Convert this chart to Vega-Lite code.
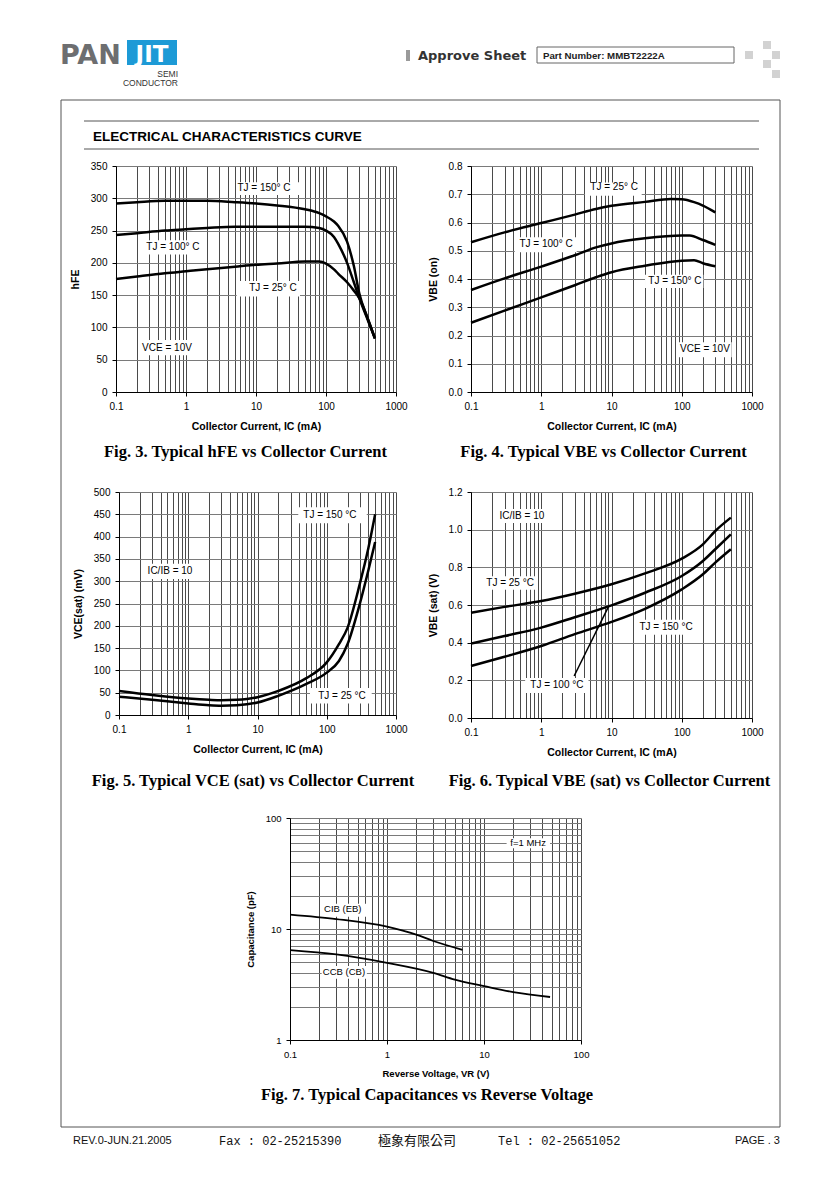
{
  "$schema": "https://vega.github.io/schema/vega-lite/v6.json",
  "padding": 0,
  "background": "white",
  "columns": 3,
  "bounds": "flush",
  "align": {"row": "all", "column": "none"},
  "spacing": {"row": 100, "column": 75},
  "config": {
    "font": "Liberation Sans",
    "view": {"stroke": null},
    "axis": {"grid": true, "gridOpacity": 1, "gridWidth": 1, "domainColor": "#000", "domainWidth": 1, "tickColor": "#000", "tickSize": 4, "labelColor": "#000", "labelFont": "Liberation Sans", "labelFontSize": 10, "titleFont": "Liberation Sans", "titleFontSize": 10.5, "titleFontWeight": "bold", "titleColor": "#000", "labelPadding": 5, "titlePadding": 10, "labelFlush": false, "labelOverlap": false},
    "axisX": {"gridColor": "#4a4a4a"},
    "axisY": {"gridColor": "#7a7a7a"},
    "title": {"font": "Liberation Serif", "fontSize": 16.5, "fontWeight": "bold", "color": "#000"}
  },
  "datasets": {
    "page_bg": [{"x": 0, "x2": 840, "y": 0, "y2": 1189}],
    "hdr_frame": [{"x": 61, "x2": 780, "y": 100, "y2": 1127}],
    "hdr_rules": [{"x": 84, "x2": 759, "y": 121}, {"x": 84, "x2": 759, "y": 149}],
    "hdr_partbox": [{"x": 537, "x2": 734, "y": 47, "y2": 63}],
    "hdr_blue": [{"x": 127, "x2": 177, "y": 40, "y2": 65}],
    "hdr_bar": [{"x": 406, "x2": 410, "y": 50, "y2": 61}],
    "hdr_checker": [
      {"x": 763, "x2": 771, "y": 41, "y2": 49},
      {"x": 745, "x2": 753, "y": 51, "y2": 59},
      {"x": 772, "x2": 780, "y": 51, "y2": 59},
      {"x": 763, "x2": 771, "y": 60, "y2": 68},
      {"x": 772, "x2": 780, "y": 70, "y2": 78}
    ],
    "hdr_pan": [{"x": 60, "y": 64, "t": "PAN"}],
    "hdr_jit": [{"x": 152, "y": 62, "t": "JIT"}],
    "hdr_semi": [{"x": 178, "y": 77, "t": "SEMI"}, {"x": 178, "y": 86, "t": "CONDUCTOR"}],
    "hdr_approve": [{"x": 418, "y": 60, "t": "Approve Sheet"}],
    "hdr_part": [{"x": 543, "y": 59, "t": "Part Number: MMBT2222A"}],
    "hdr_heading": [{"x": 93, "y": 141, "t": "ELECTRICAL CHARACTERISTICS CURVE"}],
    "ftr_rev": [{"x": 73, "y": 1144, "t": "REV.0-JUN.21.2005"}],
    "ftr_page": [{"x": 780, "y": 1144, "t": "PAGE . 3"}],
    "ftr_mono": [{"x": 219, "y": 1145, "t": "Fax : 02-25215390"}, {"x": 498, "y": 1145, "t": "Tel : 02-25651052"}],
    "ftr_cjk": [{"x": 378, "y": 1145, "t": "極象有限公司"}],
    "f3": [
      {"tj": "150", "x": 0.1, "y": 292}, {"tj": "150", "x": 0.2, "y": 294}, {"tj": "150", "x": 0.5, "y": 296}, {"tj": "150", "x": 1, "y": 296}, {"tj": "150", "x": 2, "y": 296}, {"tj": "150", "x": 5, "y": 294}, {"tj": "150", "x": 10, "y": 292}, {"tj": "150", "x": 20, "y": 289}, {"tj": "150", "x": 50, "y": 283}, {"tj": "150", "x": 80, "y": 277}, {"tj": "150", "x": 100, "y": 272}, {"tj": "150", "x": 130, "y": 264}, {"tj": "150", "x": 150, "y": 257}, {"tj": "150", "x": 200, "y": 233}, {"tj": "150", "x": 250, "y": 195}, {"tj": "150", "x": 300, "y": 152}, {"tj": "150", "x": 400, "y": 112}, {"tj": "150", "x": 500, "y": 83},
      {"tj": "100", "x": 0.1, "y": 243}, {"tj": "100", "x": 0.2, "y": 246}, {"tj": "100", "x": 0.5, "y": 250}, {"tj": "100", "x": 1, "y": 252}, {"tj": "100", "x": 2, "y": 254}, {"tj": "100", "x": 5, "y": 256}, {"tj": "100", "x": 10, "y": 256}, {"tj": "100", "x": 20, "y": 256}, {"tj": "100", "x": 50, "y": 256}, {"tj": "100", "x": 80, "y": 254}, {"tj": "100", "x": 100, "y": 250}, {"tj": "100", "x": 130, "y": 240}, {"tj": "100", "x": 150, "y": 229}, {"tj": "100", "x": 200, "y": 200}, {"tj": "100", "x": 250, "y": 170}, {"tj": "100", "x": 300, "y": 145}, {"tj": "100", "x": 400, "y": 110}, {"tj": "100", "x": 500, "y": 83},
      {"tj": "25", "x": 0.1, "y": 175}, {"tj": "25", "x": 0.2, "y": 179}, {"tj": "25", "x": 0.5, "y": 184}, {"tj": "25", "x": 1, "y": 187}, {"tj": "25", "x": 2, "y": 190}, {"tj": "25", "x": 5, "y": 194}, {"tj": "25", "x": 10, "y": 197}, {"tj": "25", "x": 20, "y": 199}, {"tj": "25", "x": 50, "y": 202}, {"tj": "25", "x": 80, "y": 202}, {"tj": "25", "x": 100, "y": 199}, {"tj": "25", "x": 130, "y": 190}, {"tj": "25", "x": 150, "y": 183}, {"tj": "25", "x": 200, "y": 170}, {"tj": "25", "x": 250, "y": 157}, {"tj": "25", "x": 300, "y": 145}, {"tj": "25", "x": 400, "y": 112}, {"tj": "25", "x": 500, "y": 83}
    ],
    "f3box": [{"x": 5.3, "x2": 42.5, "y": 305, "y2": 325}, {"x": 0.26, "x2": 1.67, "y": 213, "y2": 235}, {"x": 5.3, "x2": 42.5, "y": 148, "y2": 172}, {"x": 0.26, "x2": 1.14, "y": 57, "y2": 80.5}],
    "f3lab": [{"x": 13, "y": 316, "t": "TJ = 150° C"}, {"x": 0.65, "y": 225, "t": "TJ = 100° C"}, {"x": 17.5, "y": 161, "t": "TJ = 25° C"}, {"x": 0.535, "y": 68, "t": "VCE = 10V"}],
    "f4": [
      {"tj": "25", "x": 0.1, "y": 0.530}, {"tj": "25", "x": 0.3, "y": 0.565}, {"tj": "25", "x": 1, "y": 0.598}, {"tj": "25", "x": 3, "y": 0.628}, {"tj": "25", "x": 6, "y": 0.648}, {"tj": "25", "x": 10, "y": 0.659}, {"tj": "25", "x": 30, "y": 0.673}, {"tj": "25", "x": 70, "y": 0.683}, {"tj": "25", "x": 100, "y": 0.682}, {"tj": "25", "x": 150, "y": 0.672}, {"tj": "25", "x": 200, "y": 0.660}, {"tj": "25", "x": 300, "y": 0.636},
      {"tj": "100", "x": 0.1, "y": 0.361}, {"tj": "100", "x": 0.3, "y": 0.402}, {"tj": "100", "x": 1, "y": 0.444}, {"tj": "100", "x": 3, "y": 0.484}, {"tj": "100", "x": 6, "y": 0.512}, {"tj": "100", "x": 10, "y": 0.526}, {"tj": "100", "x": 30, "y": 0.544}, {"tj": "100", "x": 100, "y": 0.554}, {"tj": "100", "x": 130, "y": 0.554}, {"tj": "100", "x": 200, "y": 0.538}, {"tj": "100", "x": 300, "y": 0.521},
      {"tj": "150", "x": 0.1, "y": 0.245}, {"tj": "150", "x": 0.3, "y": 0.288}, {"tj": "150", "x": 1, "y": 0.335}, {"tj": "150", "x": 3, "y": 0.378}, {"tj": "150", "x": 6, "y": 0.406}, {"tj": "150", "x": 10, "y": 0.424}, {"tj": "150", "x": 30, "y": 0.447}, {"tj": "150", "x": 100, "y": 0.465}, {"tj": "150", "x": 150, "y": 0.466}, {"tj": "150", "x": 200, "y": 0.456}, {"tj": "150", "x": 300, "y": 0.445}
    ],
    "f4box": [{"x": 4.2, "x2": 26.9, "y": 0.695, "y2": 0.742}, {"x": 0.42, "x2": 3.2, "y": 0.495, "y2": 0.548}, {"x": 30, "x2": 203, "y": 0.368, "y2": 0.415}, {"x": 89, "x2": 514, "y": 0.123, "y2": 0.176}],
    "f4lab": [{"x": 10.9, "y": 0.726, "t": "TJ = 25° C"}, {"x": 1.17, "y": 0.524, "t": "TJ = 100° C"}, {"x": 80, "y": 0.393, "t": "TJ = 150° C"}, {"x": 214, "y": 0.152, "t": "VCE = 10V"}],
    "f5": [
      {"tj": "150", "x": 0.1, "y": 54}, {"tj": "150", "x": 0.3, "y": 45}, {"tj": "150", "x": 1, "y": 37}, {"tj": "150", "x": 2, "y": 34}, {"tj": "150", "x": 3, "y": 33}, {"tj": "150", "x": 5, "y": 34}, {"tj": "150", "x": 7, "y": 36}, {"tj": "150", "x": 10, "y": 40}, {"tj": "150", "x": 20, "y": 54}, {"tj": "150", "x": 50, "y": 82}, {"tj": "150", "x": 100, "y": 118}, {"tj": "150", "x": 150, "y": 159}, {"tj": "150", "x": 200, "y": 196}, {"tj": "150", "x": 300, "y": 294}, {"tj": "150", "x": 400, "y": 375}, {"tj": "150", "x": 500, "y": 450},
      {"tj": "25", "x": 0.1, "y": 41}, {"tj": "25", "x": 0.3, "y": 34}, {"tj": "25", "x": 1, "y": 26}, {"tj": "25", "x": 2, "y": 22}, {"tj": "25", "x": 3, "y": 21}, {"tj": "25", "x": 5, "y": 22}, {"tj": "25", "x": 7, "y": 24}, {"tj": "25", "x": 10, "y": 28}, {"tj": "25", "x": 20, "y": 43}, {"tj": "25", "x": 50, "y": 69}, {"tj": "25", "x": 100, "y": 95}, {"tj": "25", "x": 150, "y": 121}, {"tj": "25", "x": 200, "y": 159}, {"tj": "25", "x": 300, "y": 249}, {"tj": "25", "x": 400, "y": 325}, {"tj": "25", "x": 500, "y": 388}
    ],
    "f5box": [{"x": 38.8, "x2": 378, "y": 430, "y2": 466}, {"x": 0.28, "x2": 1.06, "y": 305, "y2": 339}, {"x": 57.3, "x2": 446, "y": 26, "y2": 60.5}],
    "f5lab": [{"x": 111, "y": 448, "t": "TJ = 150 °C"}, {"x": 0.545, "y": 323, "t": "IC/IB = 10"}, {"x": 166, "y": 43, "t": "TJ = 25 °C"}],
    "f6": [
      {"tj": "25", "x": 0.1, "y": 0.559}, {"tj": "25", "x": 0.3, "y": 0.590}, {"tj": "25", "x": 1, "y": 0.621}, {"tj": "25", "x": 3, "y": 0.660}, {"tj": "25", "x": 10, "y": 0.710}, {"tj": "25", "x": 30, "y": 0.768}, {"tj": "25", "x": 100, "y": 0.846}, {"tj": "25", "x": 200, "y": 0.922}, {"tj": "25", "x": 300, "y": 0.993}, {"tj": "25", "x": 500, "y": 1.064},
      {"tj": "100", "x": 0.1, "y": 0.395}, {"tj": "100", "x": 0.3, "y": 0.435}, {"tj": "100", "x": 1, "y": 0.480}, {"tj": "100", "x": 3, "y": 0.535}, {"tj": "100", "x": 10, "y": 0.598}, {"tj": "100", "x": 30, "y": 0.665}, {"tj": "100", "x": 100, "y": 0.754}, {"tj": "100", "x": 200, "y": 0.834}, {"tj": "100", "x": 300, "y": 0.896}, {"tj": "100", "x": 500, "y": 0.975},
      {"tj": "150", "x": 0.1, "y": 0.276}, {"tj": "150", "x": 0.3, "y": 0.325}, {"tj": "150", "x": 1, "y": 0.382}, {"tj": "150", "x": 3, "y": 0.445}, {"tj": "150", "x": 10, "y": 0.510}, {"tj": "150", "x": 30, "y": 0.580}, {"tj": "150", "x": 100, "y": 0.683}, {"tj": "150", "x": 200, "y": 0.763}, {"tj": "150", "x": 300, "y": 0.825}, {"tj": "150", "x": 500, "y": 0.896}
    ],
    "f6lead": [{"x": 2.94, "y": 0.223}, {"x": 9.06, "y": 0.591}],
    "f6box": [{"x": 0.27, "x2": 1.07, "y": 1.036, "y2": 1.11}, {"x": 0.15, "x2": 0.86, "y": 0.681, "y2": 0.752}, {"x": 24, "x2": 146, "y": 0.442, "y2": 0.522}, {"x": 0.59, "x2": 4.7, "y": 0.133, "y2": 0.212}],
    "f6lab": [{"x": 0.53, "y": 1.073, "t": "IC/IB = 10"}, {"x": 0.36, "y": 0.717, "t": "TJ = 25 °C"}, {"x": 59.7, "y": 0.483, "t": "TJ = 150 °C"}, {"x": 1.67, "y": 0.175, "t": "TJ = 100 °C"}],
    "f7": [
      {"c": "CIB", "x": 0.1, "y": 13.5}, {"c": "CIB", "x": 0.3, "y": 12.3}, {"c": "CIB", "x": 1, "y": 10.5}, {"c": "CIB", "x": 2, "y": 8.9}, {"c": "CIB", "x": 3, "y": 7.8}, {"c": "CIB", "x": 6, "y": 6.5},
      {"c": "CCB", "x": 0.1, "y": 6.45}, {"c": "CCB", "x": 0.3, "y": 5.9}, {"c": "CCB", "x": 1, "y": 4.96}, {"c": "CCB", "x": 3, "y": 4.03}, {"c": "CCB", "x": 5, "y": 3.5}, {"c": "CCB", "x": 10, "y": 3.06}, {"c": "CCB", "x": 20, "y": 2.7}, {"c": "CCB", "x": 48, "y": 2.44}
    ],
    "f7box": [{"x": 17.1, "x2": 47.9, "y": 53.5, "y2": 65.8}, {"x": 0.204, "x2": 0.61, "y": 12.9, "y2": 16.9}, {"x": 0.212, "x2": 0.62, "y": 3.57, "y2": 4.64}],
    "f7lab": [{"x": 28.5, "y": 59.7, "t": "f=1 MHz"}, {"x": 0.35, "y": 15, "t": "CIB (EB)"}, {"x": 0.36, "y": 4.07, "t": "CCB (CB)"}]
  },
  "concat": [
    {
      "width": 41, "height": 10,
      "encoding": {
        "x": {"field": "x", "type": "quantitative", "scale": {"domain": [0, 41], "nice": false, "zero": false}, "axis": null},
        "y": {"field": "y", "type": "quantitative", "scale": {"domain": [166, 176], "reverse": true, "nice": false, "zero": false}, "axis": null}
      },
      "layer": [
        {"data": {"name": "page_bg"}, "mark": {"type": "rect", "fill": "white", "fillOpacity": 0}, "encoding": {"x2": {"field": "x2"}, "y2": {"field": "y2"}}},
        {"data": {"name": "hdr_frame"}, "mark": {"type": "rect", "fill": null, "stroke": "#555", "strokeWidth": 1}, "encoding": {"x2": {"field": "x2"}, "y2": {"field": "y2"}}},
        {"data": {"name": "hdr_rules"}, "mark": {"type": "rule", "stroke": "#555", "strokeWidth": 1}, "encoding": {"x2": {"field": "x2"}}},
        {"data": {"name": "hdr_partbox"}, "mark": {"type": "rect", "fill": "white", "stroke": "#666", "strokeWidth": 1}, "encoding": {"x2": {"field": "x2"}, "y2": {"field": "y2"}}},
        {"data": {"name": "hdr_blue"}, "mark": {"type": "rect", "fill": "#1d9ad6"}, "encoding": {"x2": {"field": "x2"}, "y2": {"field": "y2"}}},
        {"data": {"name": "hdr_bar"}, "mark": {"type": "rect", "fill": "#9a9a9a"}, "encoding": {"x2": {"field": "x2"}, "y2": {"field": "y2"}}},
        {"data": {"name": "hdr_checker"}, "mark": {"type": "rect", "fill": "#d2d2d2"}, "encoding": {"x2": {"field": "x2"}, "y2": {"field": "y2"}}},
        {"data": {"name": "hdr_pan"}, "mark": {"type": "text", "align": "left", "baseline": "alphabetic", "font": "DejaVu Sans", "fontSize": 27, "fontWeight": "bold", "color": "#6d6e70"}, "encoding": {"text": {"field": "t"}}},
        {"data": {"name": "hdr_jit"}, "mark": {"type": "text", "align": "center", "baseline": "alphabetic", "font": "DejaVu Sans", "fontSize": 23, "fontWeight": "bold", "color": "white"}, "encoding": {"text": {"field": "t"}}},
        {"data": {"name": "hdr_semi"}, "mark": {"type": "text", "align": "right", "baseline": "alphabetic", "fontSize": 8.5, "color": "#333"}, "encoding": {"text": {"field": "t"}}},
        {"data": {"name": "hdr_approve"}, "mark": {"type": "text", "align": "left", "baseline": "alphabetic", "font": "DejaVu Sans", "fontSize": 13, "fontWeight": "bold", "color": "#333"}, "encoding": {"text": {"field": "t"}}},
        {"data": {"name": "hdr_part"}, "mark": {"type": "text", "align": "left", "baseline": "alphabetic", "fontSize": 9.7, "fontWeight": "bold", "color": "#222"}, "encoding": {"text": {"field": "t"}}},
        {"data": {"name": "hdr_heading"}, "mark": {"type": "text", "align": "left", "baseline": "alphabetic", "fontSize": 13.5, "fontWeight": "bold", "color": "#000"}, "encoding": {"text": {"field": "t"}}},
        {"data": {"name": "ftr_rev"}, "mark": {"type": "text", "align": "left", "baseline": "alphabetic", "fontSize": 11, "color": "#111"}, "encoding": {"text": {"field": "t"}}},
        {"data": {"name": "ftr_page"}, "mark": {"type": "text", "align": "right", "baseline": "alphabetic", "fontSize": 11, "color": "#111"}, "encoding": {"text": {"field": "t"}}},
        {"data": {"name": "ftr_mono"}, "mark": {"type": "text", "align": "left", "baseline": "alphabetic", "fontSize": 12, "font": "Liberation Mono", "color": "#111"}, "encoding": {"text": {"field": "t"}}},
        {"data": {"name": "ftr_cjk"}, "mark": {"type": "text", "align": "left", "baseline": "alphabetic", "fontSize": 13, "font": "Noto Sans CJK TC", "color": "#111"}, "encoding": {"text": {"field": "t"}}}
      ]
    },
    {
      "width": 280, "height": 226,
      "title": {"text": "Fig. 3. Typical hFE vs Collector Current", "orient": "bottom", "anchor": "middle", "frame": "group", "dx": -10.5, "offset": 12},
      "encoding": {
        "x": {"field": "x", "type": "quantitative", "scale": {"type": "log", "domain": [0.1, 1000], "nice": false},
          "axis": {"title": "Collector Current, IC (mA)", "values": [0.1,0.2,0.3,0.4,0.5,0.6,0.7,0.8,0.9,1,2,3,4,5,6,7,8,9,10,20,30,40,50,60,70,80,90,100,200,300,400,500,600,700,800,900,1000], "format": "~g", "labelExpr": "indexof([0.1,1,10,100,1000], datum.value) >= 0 ? datum.label : ''", "tickOpacity": {"condition": {"test": "indexof([0.1,1,10,100,1000], datum.value) >= 0", "value": 1}, "value": 0}}},
        "y": {"field": "y", "type": "quantitative", "scale": {"domain": [0, 350], "nice": false, "zero": false},
          "axis": {"title": "hFE", "values": [0,50,100,150,200,250,300,350], "format": "d"}}
      },
      "layer": [
        {"data": {"name": "f3box"}, "mark": {"type": "rect", "fill": "white"}, "encoding": {"x2": {"field": "x2"}, "y2": {"field": "y2"}}},
        {"data": {"name": "f3"}, "mark": {"type": "line", "color": "#000", "strokeWidth": 2.5, "interpolate": "monotone"}, "encoding": {"detail": {"field": "tj", "type": "nominal"}}},
        {"data": {"name": "f3lab"}, "mark": {"type": "text", "fontSize": 10, "color": "#000"}, "encoding": {"text": {"field": "t"}}}
      ]
    },
    {
      "width": 281, "height": 226,
      "title": {"text": "Fig. 4. Typical VBE vs Collector Current", "orient": "bottom", "anchor": "middle", "dx": -8, "offset": 12},
      "encoding": {
        "x": {"field": "x", "type": "quantitative", "scale": {"type": "log", "domain": [0.1, 1000], "nice": false},
          "axis": {"title": "Collector Current, IC (mA)", "values": [0.1,0.2,0.3,0.4,0.5,0.6,0.7,0.8,0.9,1,2,3,4,5,6,7,8,9,10,20,30,40,50,60,70,80,90,100,200,300,400,500,600,700,800,900,1000], "format": "~g", "labelExpr": "indexof([0.1,1,10,100,1000], datum.value) >= 0 ? datum.label : ''", "tickOpacity": {"condition": {"test": "indexof([0.1,1,10,100,1000], datum.value) >= 0", "value": 1}, "value": 0}}},
        "y": {"field": "y", "type": "quantitative", "scale": {"domain": [0, 0.8], "nice": false, "zero": false},
          "axis": {"title": "VBE (on)", "values": [0,0.1,0.2,0.3,0.4,0.5,0.6,0.7,0.8], "format": ".1f"}}
      },
      "layer": [
        {"data": {"name": "f4box"}, "mark": {"type": "rect", "fill": "white"}, "encoding": {"x2": {"field": "x2"}, "y2": {"field": "y2"}}},
        {"data": {"name": "f4"}, "mark": {"type": "line", "color": "#000", "strokeWidth": 2.5, "interpolate": "monotone"}, "encoding": {"detail": {"field": "tj", "type": "nominal"}}},
        {"data": {"name": "f4lab"}, "mark": {"type": "text", "fontSize": 10, "color": "#000"}, "encoding": {"text": {"field": "t"}}}
      ]
    },
    {"width": 41, "height": 10, "data": {"values": [{"a": 0}]}, "mark": {"type": "point", "opacity": 0}},
    {
      "width": 280, "height": 223,
      "title": {"text": "Fig. 5. Typical VCE (sat) vs Collector Current", "orient": "bottom", "anchor": "middle", "frame": "group", "dx": -3, "offset": 18},
      "encoding": {
        "x": {"field": "x", "type": "quantitative", "scale": {"type": "log", "domain": [0.1, 1000], "range": [3, 280], "nice": false},
          "axis": {"title": "Collector Current, IC (mA)", "values": [0.1,0.2,0.3,0.4,0.5,0.6,0.7,0.8,0.9,1,2,3,4,5,6,7,8,9,10,20,30,40,50,60,70,80,90,100,200,300,400,500,600,700,800,900,1000], "format": "~g", "labelExpr": "indexof([0.1,1,10,100,1000], datum.value) >= 0 ? datum.label : ''", "tickOpacity": {"condition": {"test": "indexof([0.1,1,10,100,1000], datum.value) >= 0", "value": 1}, "value": 0}}},
        "y": {"field": "y", "type": "quantitative", "scale": {"domain": [0, 500], "nice": false, "zero": false},
          "axis": {"title": "VCE(sat) (mV)", "offset": -3, "values": [0,50,100,150,200,250,300,350,400,450,500], "format": "d"}}
      },
      "layer": [
        {"data": {"name": "f5box"}, "mark": {"type": "rect", "fill": "white"}, "encoding": {"x2": {"field": "x2"}, "y2": {"field": "y2"}}},
        {"data": {"name": "f5"}, "mark": {"type": "line", "color": "#000", "strokeWidth": 2.5, "interpolate": "monotone"}, "encoding": {"detail": {"field": "tj", "type": "nominal"}}},
        {"data": {"name": "f5lab"}, "mark": {"type": "text", "fontSize": 10, "color": "#000"}, "encoding": {"text": {"field": "t"}}}
      ]
    },
    {
      "width": 281, "height": 226,
      "title": {"text": "Fig. 6. Typical VBE (sat) vs Collector Current", "orient": "bottom", "anchor": "middle", "dx": -2, "offset": 15},
      "encoding": {
        "x": {"field": "x", "type": "quantitative", "scale": {"type": "log", "domain": [0.1, 1000], "nice": false},
          "axis": {"title": "Collector Current, IC (mA)", "values": [0.1,0.2,0.3,0.4,0.5,0.6,0.7,0.8,0.9,1,2,3,4,5,6,7,8,9,10,20,30,40,50,60,70,80,90,100,200,300,400,500,600,700,800,900,1000], "format": "~g", "labelExpr": "indexof([0.1,1,10,100,1000], datum.value) >= 0 ? datum.label : ''", "tickOpacity": {"condition": {"test": "indexof([0.1,1,10,100,1000], datum.value) >= 0", "value": 1}, "value": 0}}},
        "y": {"field": "y", "type": "quantitative", "scale": {"domain": [0, 1.2], "nice": false, "zero": false},
          "axis": {"title": "VBE (sat) (V)", "values": [0,0.2,0.4,0.6,0.8,1.0,1.2], "format": ".1f"}}
      },
      "layer": [
        {"data": {"name": "f6box"}, "mark": {"type": "rect", "fill": "white"}, "encoding": {"x2": {"field": "x2"}, "y2": {"field": "y2"}}},
        {"data": {"name": "f6"}, "mark": {"type": "line", "color": "#000", "strokeWidth": 2.5, "interpolate": "monotone"}, "encoding": {"detail": {"field": "tj", "type": "nominal"}}},
        {"data": {"name": "f6lead"}, "mark": {"type": "line", "color": "#000", "strokeWidth": 1.5}, "encoding": {}},
        {"data": {"name": "f6lab"}, "mark": {"type": "text", "fontSize": 10, "color": "#000"}, "encoding": {"text": {"field": "t"}}}
      ]
    },
    {"width": 41, "height": 10, "data": {"values": [{"a": 0}]}, "mark": {"type": "point", "opacity": 0}},
    {
      "width": 280, "height": 222,
      "title": {"text": "Fig. 7. Typical Capacitances vs Reverse Voltage", "orient": "bottom", "anchor": "middle", "frame": "group", "dx": 171, "offset": 9},
      "encoding": {
        "x": {"field": "x", "type": "quantitative", "scale": {"type": "log", "domain": [0.1, 100], "range": [174, 465], "nice": false},
          "axis": {"title": "Reverse Voltage, VR (V)", "titleFontSize": 9.5, "labelFontSize": 9.5, "values": [0.1,0.2,0.3,0.4,0.5,0.6,0.7,0.8,0.9,1,2,3,4,5,6,7,8,9,10,20,30,40,50,60,70,80,90,100], "format": "~g", "labelExpr": "indexof([0.1,1,10,100], datum.value) >= 0 ? datum.label : ''", "tickOpacity": {"condition": {"test": "indexof([0.1,1,10,100], datum.value) >= 0", "value": 1}, "value": 0}}},
        "y": {"field": "y", "type": "quantitative", "scale": {"type": "log", "domain": [1, 100], "nice": false},
          "axis": {"title": "Capacitance (pF)", "offset": -174, "titleFontSize": 9.5, "labelFontSize": 9.5, "values": [1,2,3,4,5,6,7,8,9,10,20,30,40,50,60,70,80,90,100], "format": "~g", "labelExpr": "indexof([1,10,100], datum.value) >= 0 ? datum.label : ''", "tickOpacity": {"condition": {"test": "indexof([1,10,100], datum.value) >= 0", "value": 1}, "value": 0}}}
      },
      "layer": [
        {"data": {"name": "f7box"}, "mark": {"type": "rect", "fill": "white"}, "encoding": {"x2": {"field": "x2"}, "y2": {"field": "y2"}}},
        {"data": {"name": "f7"}, "mark": {"type": "line", "color": "#000", "strokeWidth": 1.8, "interpolate": "monotone"}, "encoding": {"detail": {"field": "c", "type": "nominal"}}},
        {"data": {"name": "f7lab"}, "mark": {"type": "text", "fontSize": 9.5, "color": "#000"}, "encoding": {"text": {"field": "t"}}}
      ]
    }
  ]
}
